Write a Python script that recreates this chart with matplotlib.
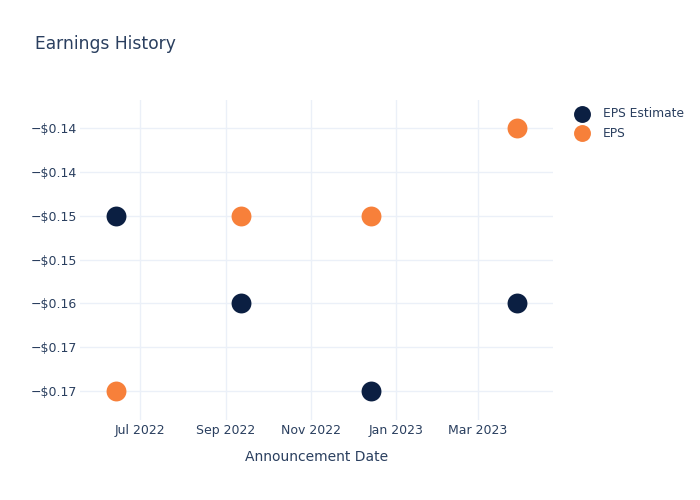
import matplotlib
matplotlib.use('Agg')
import matplotlib.pyplot as plt
import datetime as dt

dates = [dt.date(2022, 6, 14), dt.date(2022, 9, 12), dt.date(2022, 12, 14), dt.date(2023, 3, 29)]
eps_estimate = [-0.15, -0.16, -0.17, -0.16]
eps_actual = [-0.17, -0.15, -0.15, -0.14]

y_ticks = [-0.14, -0.145, -0.15, -0.155, -0.16, -0.165, -0.17]
y_tick_labels = ['\u2212$0.14', '\u2212$0.14', '\u2212$0.15', '\u2212$0.15', '\u2212$0.16', '\u2212$0.17', '\u2212$0.17']
x_ticks = [dt.date(2022, 7, 1), dt.date(2022, 9, 1), dt.date(2022, 11, 1), dt.date(2023, 1, 1), dt.date(2023, 3, 1)]
x_tick_labels = ['Jul 2022', 'Sep 2022', 'Nov 2022', 'Jan 2023', 'Mar 2023']

text_color = '#2a3f5f'
grid_color = '#ebf0f8'
navy = '#0b1f42'
orange = '#f7803a'

fig = plt.figure(figsize=(7, 5), dpi=100)
ax = fig.add_axes([80 / 700, 80 / 500, 473 / 700, 320 / 500])

ax.scatter(dates, eps_estimate, s=205, color=navy, label='EPS Estimate', zorder=3, linewidths=0)
ax.scatter(dates, eps_actual, s=205, color=orange, label='EPS', zorder=3, linewidths=0)

ax.set_xlim(dt.date(2022, 5, 19), dt.date(2023, 4, 24))
ax.set_ylim(-0.1733, -0.1368)
ax.set_xticks(x_ticks)
ax.set_xticklabels(x_tick_labels)
ax.set_yticks(y_ticks)
ax.set_yticklabels(y_tick_labels)

ax.grid(True, color=grid_color, linewidth=1)
ax.set_axisbelow(True)
for sp in ax.spines.values():
    sp.set_visible(False)
ax.tick_params(length=0, colors=text_color, labelsize=9)
ax.tick_params(axis='x', pad=3)
ax.tick_params(axis='y', pad=2)

ax.set_xlabel('Announcement Date', color=text_color, fontsize=10, labelpad=9)
fig.text(35 / 700, 1 - 44 / 500, 'Earnings History', color=text_color, fontsize=12.3, va='center', ha='left')

leg = ax.legend(loc='upper left', bbox_to_anchor=(1.026, 1.0 - 2 / 320), frameon=False, fontsize=8.8,
                labelcolor=text_color, handletextpad=0.7, borderaxespad=0, labelspacing=0.55,
                markerscale=0.85)

fig.savefig('out.png', dpi=100)
